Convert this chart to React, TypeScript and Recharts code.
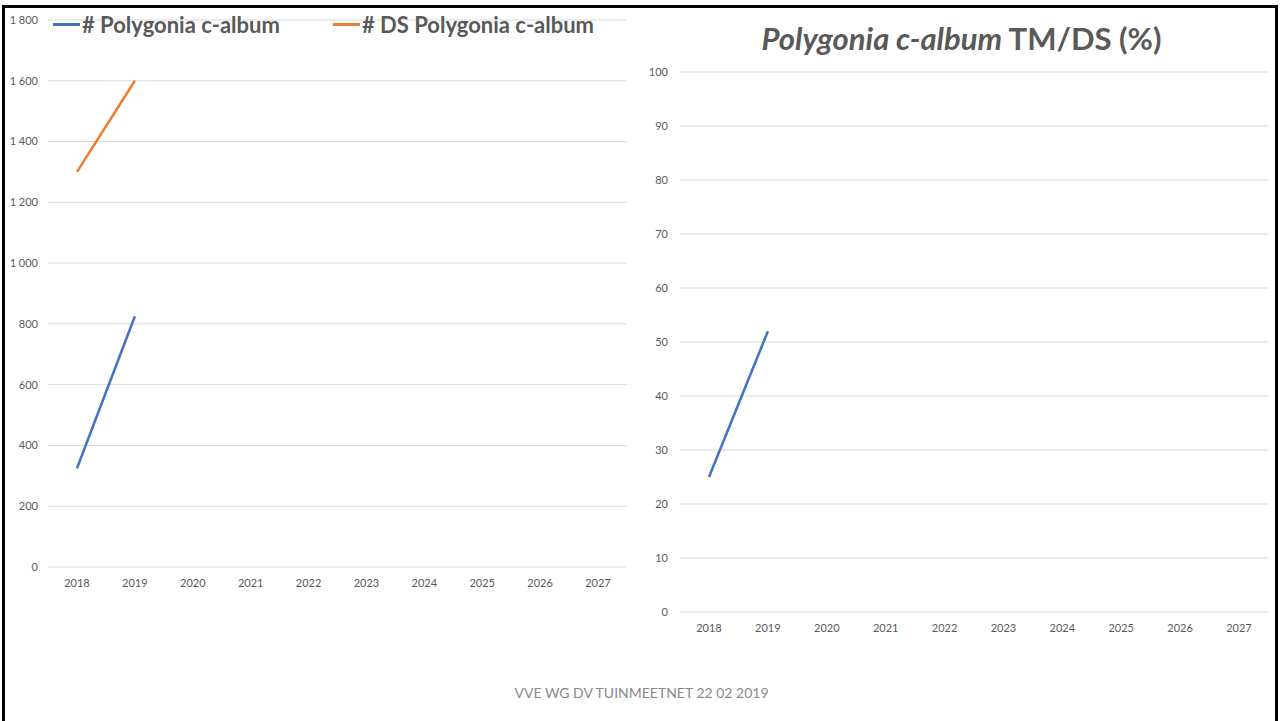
import { LineChart, Line, XAxis, YAxis, CartesianGrid, Legend } from "recharts";

const BLUE = "#4472C4";
const ORANGE = "#ED7D31";
const GRID = "#d9d9d9";
const TEXT = "#595959";
const FONT = "Lato, 'Open Sans', sans-serif";

// values
const years = ["2018", "2019", "2020", "2021", "2022", "2023", "2024", "2025", "2026", "2027"];
const countTM = [325, 825, null, null, null, null, null, null, null, null];
const countDS = [1300, 1600, null, null, null, null, null, null, null, null];
const pctTMDS = [25, 52, null, null, null, null, null, null, null, null];

const countTicks = [0, 200, 400, 600, 800, 1000, 1200, 1400, 1600, 1800];
const pctTicks = [0, 10, 20, 30, 40, 50, 60, 70, 80, 90, 100];
const legendOrder = ["# Polygonia c-album", "# DS Polygonia c-album"];

const countData = years.map((y, i) => ({ year: y, tm: countTM[i], ds: countDS[i] }));
const pctData = years.map((y, i) => ({ year: y, pct: pctTMDS[i] }));

const tick = { fill: TEXT, fontSize: 11, fontFamily: FONT };

const fmtThousands = (v: number) =>
  v >= 1000 ? `${Math.floor(v / 1000)} ${String(v % 1000).padStart(3, "0")}` : String(v);

function LegendTop({ payload }: any) {
  const items = [...(payload || [])].sort(
    (a: any, b: any) => legendOrder.indexOf(a.value) - legendOrder.indexOf(b.value)
  );
  return (
    <div style={{ display: "flex", alignItems: "center", fontFamily: FONT }}>
      {items.map((p: any, i: number) => (
        <div
          key={p.value}
          style={{ display: "flex", alignItems: "center", width: i === 0 ? 280 : "auto" }}
        >
          <span style={{ display: "inline-block", width: 27, height: 3, background: p.color }} />
          <span style={{ marginLeft: 2, fontSize: 22, fontWeight: 700, color: TEXT }}>{p.value}</span>
        </div>
      ))}
    </div>
  );
}

export default function App() {
  return (
    <div
      style={{
        position: "absolute",
        left: 0,
        top: 0,
        width: 1283,
        height: 721,
        overflow: "hidden",
        background: "#fff",
        fontFamily: FONT,
      }}
    >
      <div
        style={{
          position: "absolute",
          left: 2,
          top: 5,
          width: 1270,
          height: 800,
          borderTop: "3px solid #000",
          borderLeft: "3px solid #000",
          borderRight: "3px solid #000",
        }}
      />

      <div style={{ position: "absolute", left: 0, top: 0 }}>
        <LineChart width={640} height={600} data={countData} margin={{ top: 20, right: 13, bottom: 3, left: 0 }}>
          <CartesianGrid stroke={GRID} vertical={false} />
          <XAxis
            dataKey="year"
            tick={tick}
            axisLine={false}
            tickLine={false}
            tickMargin={6}
            height={30}
            interval={0}
            padding={{ left: 29, right: 29 }}
          />
          <YAxis
            domain={[0, 1800]}
            ticks={countTicks}
            tick={tick}
            axisLine={false}
            tickLine={false}
            tickMargin={4}
            width={48}
            tickFormatter={fmtThousands}
          />
          <Legend
            verticalAlign="top"
            content={<LegendTop />}
            wrapperStyle={{
              position: "absolute",
              top: 11,
              left: 53,
              width: "auto",
              height: 0,
              overflow: "visible",
            }}
          />
          <Line
            dataKey="tm"
            name="# Polygonia c-album"
            stroke={BLUE}
            strokeWidth={2.5}
            dot={false}
            isAnimationActive={false}
          />
          <Line
            dataKey="ds"
            name="# DS Polygonia c-album"
            stroke={ORANGE}
            strokeWidth={2.5}
            dot={false}
            isAnimationActive={false}
          />
        </LineChart>
      </div>

      <div
        style={{
          position: "absolute",
          left: 640,
          width: 643,
          top: 19,
          textAlign: "center",
          fontSize: 31,
          fontWeight: 700,
          color: TEXT,
        }}
      >
        <i>Polygonia c-album</i> TM/DS (%)
      </div>

      <div style={{ position: "absolute", left: 630, top: 60 }}>
        <LineChart width={650} height={600} data={pctData} margin={{ top: 12, right: 12, bottom: 18, left: 0 }}>
          <CartesianGrid stroke={GRID} vertical={false} />
          <XAxis
            dataKey="year"
            tick={tick}
            axisLine={false}
            tickLine={false}
            tickMargin={6}
            height={30}
            interval={0}
            padding={{ left: 29, right: 29 }}
          />
          <YAxis
            domain={[0, 100]}
            ticks={pctTicks}
            tick={tick}
            axisLine={false}
            tickLine={false}
            tickMargin={6}
            width={50}
          />
          <Line
            dataKey="pct"
            name="TM/DS (%)"
            stroke={BLUE}
            strokeWidth={2.5}
            dot={false}
            isAnimationActive={false}
          />
        </LineChart>
      </div>

      <div
        style={{
          position: "absolute",
          left: 0,
          width: 1283,
          top: 684,
          textAlign: "center",
          fontSize: 14,
          color: "#898989",
        }}
      >
        VVE WG DV TUINMEETNET 22 02 2019
      </div>
    </div>
  );
}
